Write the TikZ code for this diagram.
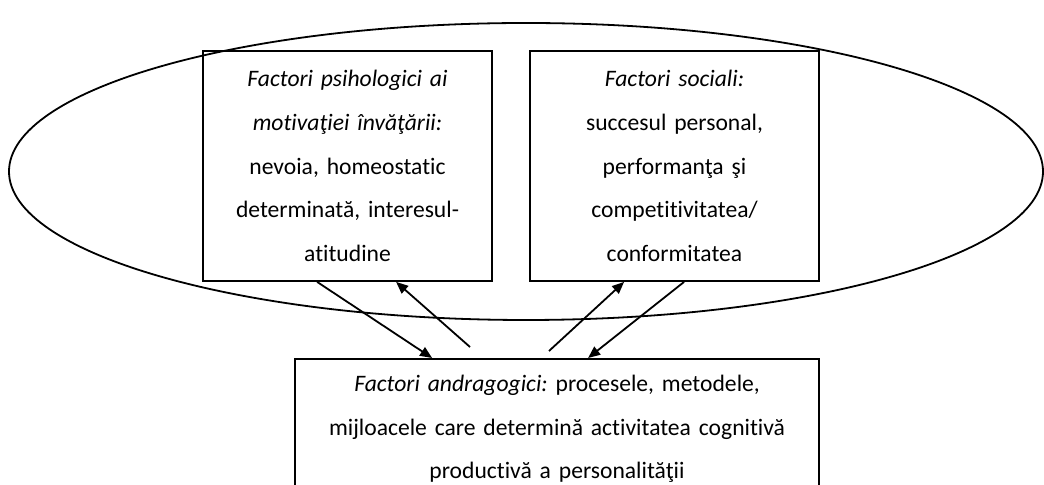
\documentclass[tikz,border=0pt]{standalone}
\usepackage{fontspec}
\setmainfont[Ligatures={NoCommon},WordSpace=0.85]{Carlito}
\usepackage{tikz}
\usetikzlibrary{shapes,arrows.meta,positioning,calc}
\frenchspacing
\tikzset{
    factorbox/.style={
        rectangle,
        draw,
        line width=0.9pt,
        align=center,
        font=\fontsize{11.8}{21.8}\selectfont,
        text width=136pt,
        minimum width=144.5pt,
        minimum height=115pt
    },
    andrbox/.style={
        factorbox,
        text width=254pt,
        minimum width=262pt,
        minimum height=70pt,
        anchor=north
    },
    influence/.style={
        -{Triangle[length=6pt,width=5pt]},
        line width=0.9pt
    }
}

\begin{document}
\begin{tikzpicture}[x=0.5pt,y=-0.5pt]
    \useasboundingbox (0,0) rectangle (1044,485);

    % Outer ellipse around the two upper factors
    \draw[line width=0.9pt] (526,171.5) ellipse [x radius=258.5pt, y radius=74.25pt];

    % Upper factors
    \node[factorbox] (psih) at (347.5,166) {\textit{Factori psihologici ai}\\
        \textit{motivaţiei învăţării:}\\
        nevoia, homeostatic\\
        determinată, interesul-\\
        atitudine};
    \node[factorbox] (soc) at (674.5,166) {\textit{Factori sociali:}\\
        succesul personal,\\
        performanţa şi\\
        competitivitatea/\\
        conformitatea};

    % Lower factor
    \node[andrbox] (andr) at (557,358) {\textit{Factori andragogici:} procesele, metodele,\\
        mijloacele care determină activitatea cognitivă\\
        productivă a personalităţii};

    % Links between the factors
    \coordinate (psihtail) at (470,347);
    \coordinate (soctail) at (549,351);
    \draw[influence] ($(psih.south west)+(115,0)$) -- ($(andr.north west)+(138,0)$);
    \draw[influence] (psihtail) -- ($(psih.south west)+(194,0)$);
    \draw[influence] (soctail) -- ($(soc.south west)+(95,0)$);
    \draw[influence] ($(soc.south west)+(155,0)$) -- ($(andr.north west)+(294,0)$);
\end{tikzpicture}
\end{document}
